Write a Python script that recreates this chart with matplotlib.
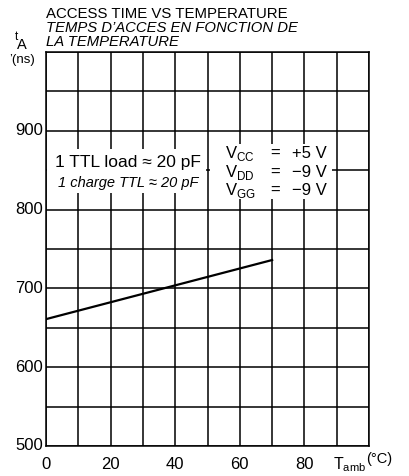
import matplotlib.pyplot as plt
from matplotlib.patches import Rectangle

# Access time vs ambient temperature
temp_c = [0, 70]
access_ns = [661, 736]

x_ticks = [0, 20, 40, 60, 80]
y_ticks = [500, 600, 700, 800, 900]

supplies = ["CC", "DD", "GG"]
supply_volts = ["+5 V", "\u22129 V", "\u22129 V"]

plt.rcParams["font.family"] = ["Liberation Sans", "DejaVu Sans"]
plt.rcParams["mathtext.fontset"] = "custom"
plt.rcParams["mathtext.rm"] = "Liberation Sans"

fig = plt.figure(figsize=(4.09, 4.76), dpi=100)
ax = fig.add_axes([46 / 409, 1 - 446 / 476, 323 / 409, 394 / 476])

ax.set_xlim(0, 100)
ax.set_ylim(500, 1000)
ax.set_xticks(range(0, 101, 10))
ax.set_yticks(range(500, 1001, 50))
ax.grid(True, color="black", lw=1.1)
ax.tick_params(length=0, labelbottom=False, labelleft=False)
for s in ax.spines.values():
    s.set_linewidth(1.1)

for t in x_ticks:
    ax.text(t, 476, str(t), ha="center", va="center", fontsize=12)
for v in y_ticks:
    ax.text(-0.9, v, str(v), ha="right", va="center", fontsize=12)

ax.plot(temp_c, access_ns, color="black", lw=1.6, zorder=3)

# white panels behind the condition notes
ax.add_patch(Rectangle((0.3, 821.5), 49.2, 55.5, facecolor="white", edgecolor="none", zorder=2.5))
ax.add_patch(Rectangle((50.8, 814), 37.7, 69.5, facecolor="white", edgecolor="none", zorder=2.5))

ax.text(25.3, 859.5, "1 TTL load \u2248 20 pF", fontsize=12.5, va="center", ha="center", zorder=4)
ax.text(25.3, 834, "1 charge TTL \u2248 20 pF", fontsize=10.5, style="italic",
        va="center", ha="center", zorder=4)

for i, (sub, volts) in enumerate(zip(supplies, supply_volts)):
    yv = 871 - i * 23.5
    ax.text(55.4, yv, "V$_{\\rm %s}$" % sub, fontsize=12, va="center", ha="left", zorder=4)
    ax.text(70.9, yv, "=", fontsize=12, va="center", ha="center", zorder=4)
    ax.text(87.0, yv, volts, fontsize=12, va="center", ha="right", zorder=4)

fig.text(46 / 409, 1 - 14 / 476, "ACCESS TIME VS TEMPERATURE", fontsize=10.8, va="center")
fig.text(46 / 409, 1 - 28 / 476, "TEMPS D\u2019ACCES EN FONCTION DE", fontsize=10.7,
         style="italic", va="center")
fig.text(46 / 409, 1 - 42 / 476, "LA TEMPERATURE", fontsize=10.7, style="italic", va="center")

# axis captions
fig.text(16 / 409, 1 - 37 / 476, "t", fontsize=8.5, ha="center", va="center")
fig.text(22 / 409, 1 - 45 / 476, "A", fontsize=10.5, ha="center", va="center")
fig.text(22 / 409, 1 - 60 / 476, "\u2019(ns)", fontsize=9.5, ha="center", va="center")
fig.text(333 / 409, 1 - 465 / 476, "T$_{\\rm amb}$", fontsize=11.5, ha="left", va="center")
fig.text(366 / 409, 1 - 459 / 476, "(\u00b0C)", fontsize=10.5, ha="left", va="center")

fig.savefig("out.png", dpi=100)
